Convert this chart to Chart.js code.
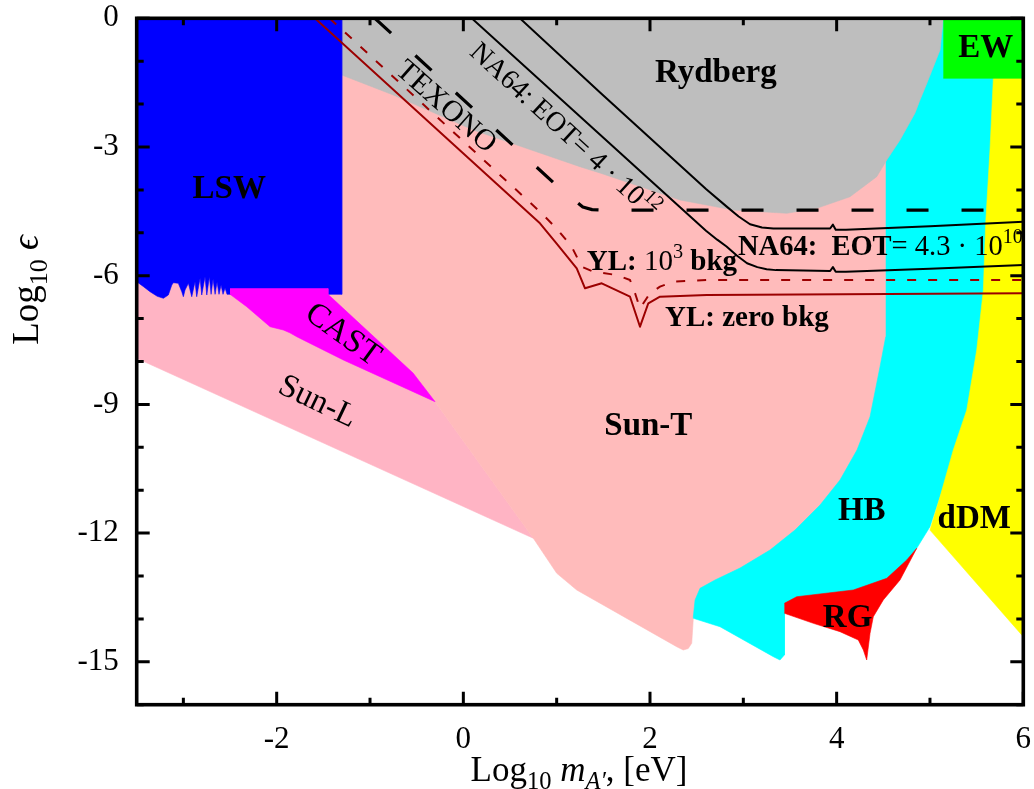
<!DOCTYPE html>
<html>
<head>
<meta charset="utf-8">
<script src="https://cdn.jsdelivr.net/npm/chart.js@4.4.1/dist/chart.umd.min.js"></script>
<style>
  html, body { margin: 0; padding: 0; background: #fff; }
  #wrap { width: 1034px; height: 789px; position: relative; }
</style>
</head>
<body>
<div id="wrap"><canvas id="c"></canvas></div>
<script>
// ---- axes ----
const xTickValues = [-3, -2, -1, 0, 1, 2, 3, 4, 5, 6];
const xLabelValues = [-2, 0, 2, 4, 6];
const yTickValues = [0, -1, -2, -3, -4, -5, -6, -7, -8, -9, -10, -11, -12, -13, -14, -15, -16];
const yLabelValues = [0, -3, -6, -9, -12, -15];

// ---- excluded regions: outlines as [log10 m (eV), log10 eps] ----
const sunL = [[-3.5, -5.5], [-1.0, -5.5], [-0.303, -8.937], [0.75, -12.121], [-3.5, -7.925]];

const sunT = [[-1.45, 0], [4.6, 0], [4.6, -7.42], [4.54, -8.12], [4.43, -9.29], [4.29, -10.06],
  [4.11, -10.76], [3.9, -11.35], [3.63, -11.93], [3.36, -12.39], [3.04, -12.81], [2.77, -13.09],
  [2.6, -13.29], [2.54, -13.56], [2.464, -13.986], [2.447, -14.569], [2.41, -14.69], [2.357, -14.725],
  [2.286, -14.648], [1.215, -13.326], [1.001, -12.937], [0.75, -12.121], [-0.303, -8.937],
  [-0.539, -8.268], [-1.45, -6.434]];

const rydberg = [[-1.303, 0], [5.143, 0], [5.108, -0.739], [4.968, -1.508], [4.893, -1.904],
  [4.84, -2.207], [4.679, -2.837], [4.537, -3.303], [4.429, -3.692], [4.143, -4.159],
  [3.786, -4.429], [3.465, -4.545], [2.893, -4.469], [2.322, -4.235], [1.465, -3.606],
  [1.25, -3.459], [0.107, -2.604], [-0.75, -1.788], [-1.303, -1.322]];

const hb = [[4.526, 0], [5.72, 0], [5.72, -1.399], [5.68, -3.07], [5.637, -4.772], [5.61, -6.333],
  [5.54, -7.732], [5.43, -9.131], [5.28, -10.063], [5.108, -11.152], [5.0, -11.851],
  [4.858, -12.354], [4.55, -13.25], [3.6, -13.7], [3.44, -13.7], [3.44, -14.841],
  [3.393, -14.958], [3.322, -14.881], [2.75, -14.182], [2.464, -13.986], [2.464, -13.949],
  [2.483, -13.559], [2.536, -13.287], [2.697, -13.093], [2.965, -12.814], [3.286, -12.394],
  [3.554, -11.928], [3.822, -11.345], [4.036, -10.762], [4.218, -10.063], [4.358, -9.287],
  [4.465, -8.121], [4.526, -7.422]];

const rg = [[3.44, -13.636], [3.572, -13.483], [4.179, -13.326], [4.537, -13.054], [4.751, -12.627],
  [4.858, -12.354], [4.679, -13.093], [4.5, -13.559], [4.393, -13.949], [4.358, -14.336],
  [4.322, -14.958], [4.286, -14.725], [4.232, -14.492], [4.036, -14.298], [3.75, -14.103],
  [3.44, -13.869]];

const ddm = [[5.679, -1.3], [6, -1.3], [6, -14.415], [5.0, -11.93], [5.108, -11.152], [5.25, -10.063],
  [5.394, -9.131], [5.501, -7.732], [5.572, -6.333], [5.597, -4.772], [5.643, -3.07], [5.679, -1.399]];

const ew = [[5.143, 0], [6, 0], [6, -1.399], [5.143, -1.399]];

const lsw = [[-3.5, 0], [-1.303, 0], [-1.303, -6.434], [-2.5, -6.434], [-2.532, -6.434],
  [-2.553, -6.287], [-2.575, -6.434], [-2.596, -6.217], [-2.618, -6.434], [-2.639, -6.147],
  [-2.66, -6.434], [-2.682, -6.077], [-2.703, -6.434], [-2.721, -6.023], [-2.749, -6.45],
  [-2.768, -6.023], [-2.803, -6.45], [-2.821, -6.061], [-2.857, -6.49], [-2.875, -6.14],
  [-2.91, -6.49], [-2.946, -6.177], [-2.982, -6.333], [-3.0, -6.49], [-3.017, -6.373],
  [-3.054, -6.177], [-3.107, -6.163], [-3.124, -6.217], [-3.161, -6.45], [-3.214, -6.527],
  [-3.28, -6.48], [-3.357, -6.373], [-3.43, -6.25], [-3.5, -6.14]];

const cast = [[-2.5, -6.3], [-1.45, -6.3], [-1.45, -6.434], [-0.539, -8.268], [-0.303, -8.937],
  [-1.286, -7.965], [-1.571, -7.655], [-1.785, -7.422], [-1.86, -7.33], [-1.929, -7.266],
  [-2.071, -7.189], [-2.321, -6.723], [-2.5, -6.434]];

// ---- projected reaches ----
const texono = [[-0.948, 0], [1.1, -4.1], [1.2, -4.26], [1.28, -4.4], [1.38, -4.46], [1.5, -4.47], [6, -4.47]];

const na64Eot4e12 = [[0.09, 0], [2.0, -3.77], [2.6, -4.95], [2.72, -5.16], [2.82, -5.32], [2.93, -5.53],
  [3.04, -5.71], [3.15, -5.8], [3.25, -5.85], [3.35, -5.87], [3.93, -5.89], [3.96, -5.8],
  [3.99, -5.91], [4.1, -5.91], [5, -5.84], [6, -5.75]];

const na64Eot43e10 = [[0.606, 0], [1.465, -1.73], [2.6, -3.98], [2.822, -4.39], [2.95, -4.62],
  [3.072, -4.8], [3.2, -4.875], [3.322, -4.9], [3.93, -4.9], [3.96, -4.81], [3.99, -4.93],
  [4.1, -4.93], [5, -4.85], [6, -4.74]];

const ylZeroBkg = [[-1.59, 0], [0.821, -4.78], [1.0, -5.25], [1.215, -5.83], [1.304, -6.294],
  [1.483, -6.177], [1.786, -6.49], [1.893, -7.189], [1.982, -6.643], [2.107, -6.49],
  [2.608, -6.45], [6, -6.41]];

const yl1e3Bkg = [[-1.433, 0], [0.821, -4.508], [1.0, -4.9], [1.161, -5.324], [1.269, -5.79],
  [1.393, -5.907], [1.643, -5.984], [1.786, -6.1], [1.84, -6.41], [1.893, -6.76], [1.929, -6.643],
  [2.0, -6.41], [2.107, -6.256], [2.25, -6.14], [2.608, -6.1], [6, -6.1]];

// ---- drawing ----
const SERIF = '"Liberation Serif", "Times New Roman", serif';
const pts = arr => arr.map(([x, y]) => ({ x, y }));

function region(data, color) {
  return { data: pts(data), fill: 'shape', backgroundColor: color, borderColor: color,
    borderWidth: 0.6, pointRadius: 0, tension: 0 };
}
function curve(data, color, width, dash) {
  return { data: pts(data), fill: false, borderColor: color, borderWidth: width,
    borderDash: dash || [], borderCapStyle: 'butt', borderJoinStyle: 'round', pointRadius: 0, tension: 0 };
}

// bottom-most first
const layers = [
  region(sunL, '#FFB4C4'),
  region(sunT, '#FFBBBB'),
  region(hb, '#00FFFF'),
  region(rydberg, '#BEBEBE'),
  region(rg, '#FF0000'),
  region(ddm, '#FFFF00'),
  region(ew, '#00FF00'),
  region(lsw, '#0000FF'),
  region(cast, '#FF00FF'),
  curve(texono, '#000000', 3.2, [22, 33]),
  curve(na64Eot4e12, '#000000', 2),
  curve(na64Eot43e10, '#000000', 2),
  curve(yl1e3Bkg, '#9B0000', 2, [9, 12]),
  curve(ylZeroBkg, '#9B0000', 2)
];
layers.forEach((d, i) => { d.order = layers.length - i; });

function fontOf(size, bold, italic) {
  return (italic ? 'italic ' : '') + (bold ? 'bold ' : '') + size + 'px ' + SERIF;
}
function runsWidth(ctx, runs, size) {
  let w = 0;
  for (const r of runs) {
    ctx.font = fontOf(r.sup || r.sub ? size * 0.7 : size, r.bold, r.italic);
    w += ctx.measureText(r.t).width;
  }
  return w;
}
function drawRuns(ctx, runs, x, y, size) {
  let cx = x;
  for (const r of runs) {
    const s = r.sup || r.sub ? size * 0.7 : size;
    ctx.font = fontOf(s, r.bold, r.italic);
    const dy = r.sup ? -size * 0.42 : (r.sub ? size * 0.24 : 0);
    ctx.fillText(r.t, cx, y + dy);
    cx += ctx.measureText(r.t).width;
  }
}

const B = t => ({ t, bold: true });
const R = t => ({ t });
const labels = [
  { runs: [B('LSW')], x: -2.508, y: -4.196, size: 33, align: 'center' },
  { runs: [B('Rydberg')], x: 2.706, y: -1.478, size: 33, align: 'center' },
  { runs: [B('EW')], x: 5.598, y: -0.895, size: 33, align: 'center' },
  { runs: [B('Sun-T')], x: 1.982, y: -9.713, size: 33, align: 'center' },
  { runs: [B('HB')], x: 4.269, y: -11.695, size: 33, align: 'center' },
  { runs: [B('dDM')], x: 5.474, y: -11.888, size: 33, align: 'center' },
  { runs: [B('RG')], x: 4.117, y: -14.182, size: 33, align: 'center' },
  { runs: [B('YL:'), R(' 10'), { t: '3', sup: true }, B(' bkg')], x: 1.322, y: -5.867, size: 29, align: 'left' },
  { runs: [B('YL: zero bkg')], x: 2.161, y: -7.17, size: 29, align: 'left' },
  { runs: [B('NA64:  EOT'), R('= 4.3 · 10'), { t: '10', sup: true }], x: 2.943, y: -5.517, size: 28.5, align: 'left' },
  { runs: [R('TEXONO')], x: -0.175, y: -2.037, size: 30, align: 'center', angle: 41.5 },
  { runs: [R('NA64: EOT= 4 · 10'), { t: '12', sup: true }], x: 1.09, y: -2.6, size: 28, align: 'center', angle: 42.5 },
  { runs: [R('CAST')], x: -1.278, y: -7.34, size: 33, align: 'center', angle: 36 },
  { runs: [R('Sun-L')], x: -1.554, y: -8.897, size: 33, align: 'center', angle: 25.5 }
];

const labelPlugin = {
  id: 'regionLabels',
  afterDatasetsDraw(chart) {
    const { ctx, scales: { x, y } } = chart;
    ctx.save();
    ctx.fillStyle = '#000';
    ctx.textBaseline = 'alphabetic';
    ctx.textAlign = 'left';
    for (const l of labels) {
      const px = x.getPixelForValue(l.x), py = y.getPixelForValue(l.y);
      const w = runsWidth(ctx, l.runs, l.size);
      if (l.angle) {
        ctx.save();
        ctx.translate(px, py);
        ctx.rotate(l.angle * Math.PI / 180);
        drawRuns(ctx, l.runs, -w / 2, l.size * 0.33, l.size);
        ctx.restore();
      } else {
        drawRuns(ctx, l.runs, l.align === 'center' ? px - w / 2 : px, py, l.size);
      }
    }
    ctx.restore();
  }
};

const framePlugin = {
  id: 'frame',
  afterDraw(chart) {
    const { ctx, chartArea: a, scales: { x, y } } = chart;
    ctx.save();
    ctx.strokeStyle = '#000';
    ctx.lineWidth = 3;
    ctx.beginPath();
    for (const t of x.ticks) {
      const p = x.getPixelForValue(t.value);
      const len = xLabelValues.includes(t.value) ? 13 : 7;
      ctx.moveTo(p, a.bottom); ctx.lineTo(p, a.bottom - len);
      ctx.moveTo(p, a.top); ctx.lineTo(p, a.top + len);
    }
    for (const t of y.ticks) {
      const p = y.getPixelForValue(t.value);
      const len = yLabelValues.includes(t.value) ? 13 : 7;
      ctx.moveTo(a.left, p); ctx.lineTo(a.left + len, p);
      ctx.moveTo(a.right, p); ctx.lineTo(a.right - len, p);
    }
    ctx.stroke();
    ctx.lineWidth = 3.6;
    ctx.strokeRect(a.left, a.top, a.right - a.left, a.bottom - a.top);

    // axis titles
    ctx.fillStyle = '#000';
    ctx.textBaseline = 'alphabetic';
    const xt = [R('Log'), { t: '10', sub: true }, R(' '), { t: 'm', italic: true },
      { t: 'A′', italic: true, sub: true }, R(', [eV]')];
    const wx = runsWidth(ctx, xt, 35);
    drawRuns(ctx, xt, 579 - wx / 2, 781, 35);
    const yt = [R('Log'), { t: '10', sub: true }, R(' '), { t: 'ϵ', italic: true }];
    const wy = runsWidth(ctx, yt, 37);
    ctx.translate(38, 290);
    ctx.rotate(-Math.PI / 2);
    drawRuns(ctx, yt, -wy / 2, 0, 37);
    ctx.restore();
  }
};

// keep the plot frame fixed: no extra room reserved for overhanging tick labels
const noOverhang = s => { s.paddingTop = 0; s.paddingBottom = 0; s.paddingLeft = 0; s.paddingRight = 0; };

new Chart(document.getElementById('c'), {
  type: 'line',
  data: { datasets: layers },
  options: {
    responsive: true,
    maintainAspectRatio: false,
    animation: false,
    events: [],
    layout: { padding: { left: 0, right: 10.7, top: 18.3, bottom: 0 } },
    elements: { point: { radius: 0 }, line: { tension: 0 } },
    plugins: { legend: { display: false }, tooltip: { enabled: false } },
    scales: {
      x: {
        type: 'linear', min: -3.5, max: 6,
        grid: { display: false, drawTicks: false },
        border: { display: false },
        afterBuildTicks: s => { s.ticks = xTickValues.map(v => ({ value: v })); },
        afterFit: s => { s.height = 84.3; noOverhang(s); },
        ticks: {
          autoSkip: false, maxRotation: 0, padding: 17, color: '#000',
          font: { family: SERIF, size: 31 },
          callback: v => (xLabelValues.includes(v) ? String(v) : '')
        }
      },
      y: {
        type: 'linear', min: -16, max: 0,
        grid: { display: false, drawTicks: false },
        border: { display: false },
        afterBuildTicks: s => { s.ticks = yTickValues.map(v => ({ value: v })); },
        afterFit: s => { s.width = 136.7; noOverhang(s); },
        ticks: {
          autoSkip: false, padding: 18, color: '#000',
          font: { family: SERIF, size: 31 },
          callback: v => (yLabelValues.includes(v) ? String(v) : '')
        }
      }
    }
  },
  plugins: [labelPlugin, framePlugin]
});
</script>
</body>
</html>
